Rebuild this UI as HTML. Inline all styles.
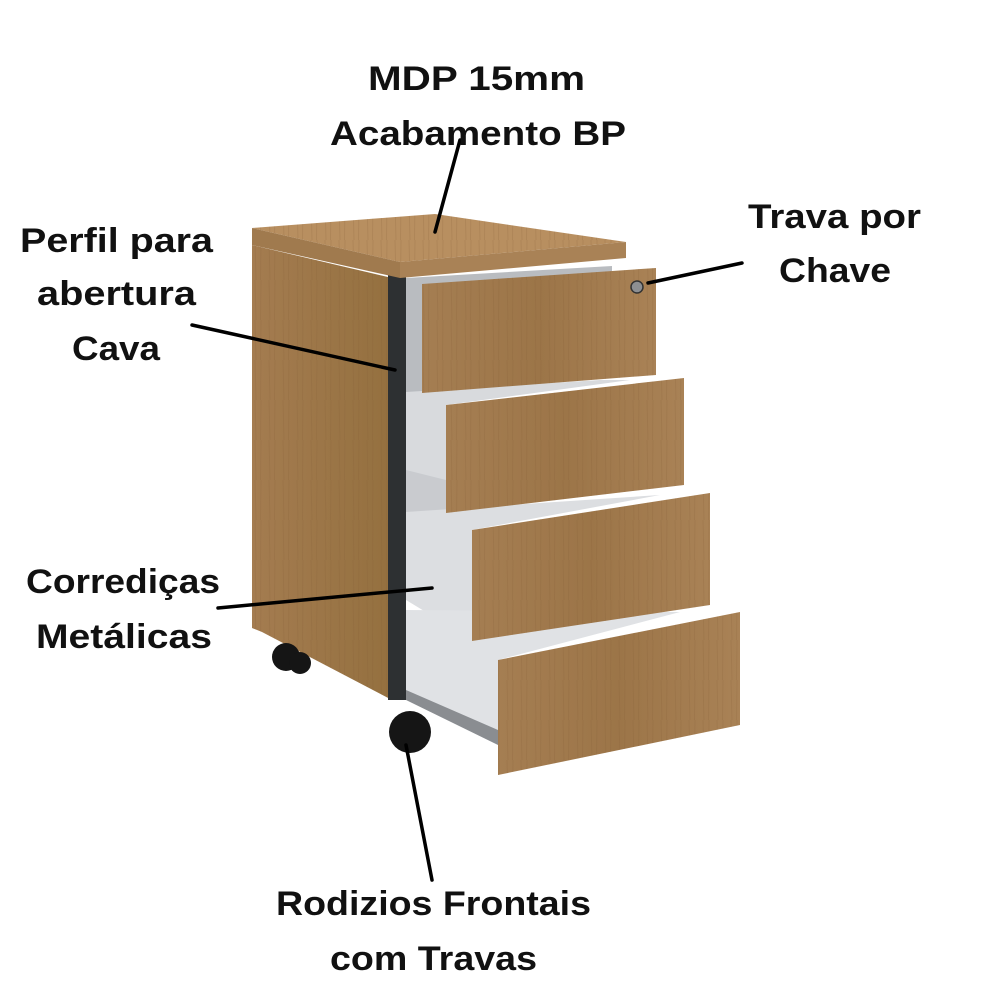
<!DOCTYPE html>
<html><head><meta charset="utf-8"><style>
html,body{margin:0;padding:0;background:#fff;}
svg{display:block}
text{font-family:"Liberation Sans",sans-serif;font-weight:bold;fill:#111;}
</style></head><body>
<svg width="1000" height="1000" viewBox="0 0 1000 1000" xmlns="http://www.w3.org/2000/svg">
<defs>
<linearGradient id="wood" x1="0" x2="1" y1="0" y2="0">
<stop offset="0" stop-color="#a57e52"/><stop offset="0.5" stop-color="#9c7548"/><stop offset="1" stop-color="#a98256"/>
</linearGradient>
<linearGradient id="side" x1="0" x2="1"><stop offset="0" stop-color="#a47c50"/><stop offset="1" stop-color="#94703f"/></linearGradient>
<pattern id="grain" width="14" height="40" patternUnits="userSpaceOnUse">
<rect width="14" height="40" fill="none"/>
<path d="M3 0 L4 40 M9 0 L8.5 40" stroke="#7d5a33" stroke-opacity="0.18" stroke-width="1"/>
</pattern>
</defs>

<!-- side panel -->
<polygon points="252,245 392,278 392,700 262,632 252,628" fill="url(#side)"/>
<polygon points="252,245 392,278 392,700 262,632 252,628" fill="url(#grain)"/>
<!-- frame -->
<rect x="388" y="274" width="18" height="426" fill="#2d3032"/>
<!-- interiors -->
<polygon points="406,278 612,266 612,372 422,392 406,392" fill="#b9bcc0"/>
<polygon points="406,392 600,380 630,380 446,405 446,512 406,470" fill="#d8dadd"/>
<polygon points="406,470 446,480 446,512 406,512" fill="#c9cbcf"/>
<polygon points="406,512 660,495 472,530 472,640 406,600" fill="#dcdee1"/>
<polygon points="406,610 680,612 498,660 498,740 406,690" fill="#e0e2e5"/>
<polygon points="406,690 498,730 498,745 406,700" fill="#8a8d91"/>
<!-- top -->
<polygon points="252,228 435,214 626,242 400,262" fill="#b88f60"/>
<polygon points="252,228 435,214 626,242 400,262" fill="url(#grain)"/>
<polygon points="400,262 626,242 626,258 400,278" fill="#a98256"/>
<polygon points="252,228 400,262 400,278 252,245" fill="#a07a4e"/>
<!-- drawer fronts -->
<g>
<polygon points="422,284 656,268 656,375 422,393" fill="url(#wood)"/>
<polygon points="422,284 656,268 656,375 422,393" fill="url(#grain)"/>
<polygon points="446,405 684,378 684,485 446,513" fill="url(#wood)"/>
<polygon points="446,405 684,378 684,485 446,513" fill="url(#grain)"/>
<polygon points="472,530 710,493 710,605 472,641" fill="url(#wood)"/>
<polygon points="472,530 710,493 710,605 472,641" fill="url(#grain)"/>
<polygon points="498,660 740,612 740,725 498,775" fill="url(#wood)"/>
<polygon points="498,660 740,612 740,725 498,775" fill="url(#grain)"/>
</g>
<circle cx="637" cy="287" r="6" fill="#8d8f92" stroke="#333" stroke-width="1.5"/>
<!-- casters -->
<circle cx="410" cy="732" r="21" fill="#151515"/>
<circle cx="286" cy="657" r="14" fill="#151515"/>
<circle cx="300" cy="663" r="11" fill="#151515"/>
<!-- leader lines -->
<g stroke="#000" stroke-width="3.5" stroke-linecap="round">
<line x1="460" y1="140" x2="435" y2="232"/>
<line x1="192" y1="325" x2="395" y2="370"/>
<line x1="218" y1="608" x2="432" y2="588"/>
<line x1="406" y1="745" x2="432" y2="880"/>
<line x1="648" y1="283" x2="742" y2="263"/>
</g>
<!-- labels -->
<g font-size="34">
<text x="368" y="90" textLength="217" lengthAdjust="spacingAndGlyphs">MDP 15mm</text>
<text x="330" y="145" textLength="296" lengthAdjust="spacingAndGlyphs">Acabamento BP</text>
<text x="20" y="252" textLength="193" lengthAdjust="spacingAndGlyphs">Perfil para</text>
<text x="37" y="305" textLength="159" lengthAdjust="spacingAndGlyphs">abertura</text>
<text x="72" y="360" textLength="88" lengthAdjust="spacingAndGlyphs">Cava</text>
<text x="748" y="228" textLength="173" lengthAdjust="spacingAndGlyphs">Trava por</text>
<text x="779" y="282" textLength="112" lengthAdjust="spacingAndGlyphs">Chave</text>
<text x="26" y="593" textLength="194" lengthAdjust="spacingAndGlyphs">Corrediças</text>
<text x="36" y="648" textLength="176" lengthAdjust="spacingAndGlyphs">Metálicas</text>
<text x="276" y="915" textLength="315" lengthAdjust="spacingAndGlyphs">Rodizios Frontais</text>
<text x="330" y="970" textLength="207" lengthAdjust="spacingAndGlyphs">com Travas</text>
</g>
</svg>
</body></html>
